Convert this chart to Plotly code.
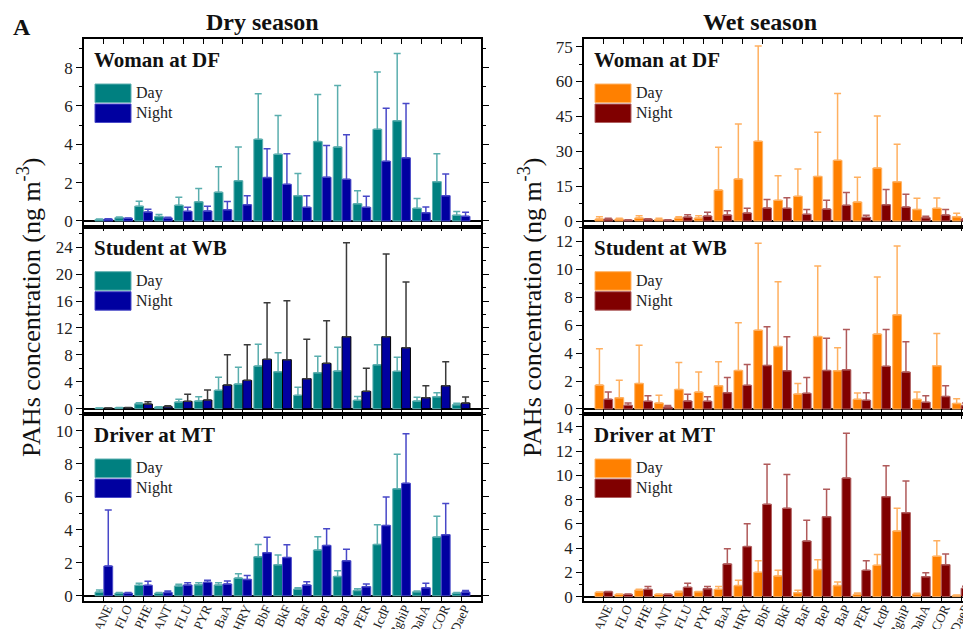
import plotly.graph_objects as go

cats = ["ANE", "FLO", "PHE", "ANT", "FLU", "PYR", "BaA", "CHRY", "BbF", "BkF",
        "BaF", "BeP", "BaP", "PER", "IcdP", "BghiP", "DahA", "COR", "DaeP"]

# Dry season
dry_df_day = [0.08, 0.17, 0.77, 0.23, 0.82, 1.00, 1.50, 2.10, 4.26, 3.48, 1.32, 4.14, 3.86, 0.90, 4.78, 5.23, 0.66, 2.05, 0.30]
dry_df_day_sd = [0.02, 0.03, 0.26, 0.10, 0.41, 0.69, 1.33, 1.76, 2.37, 2.02, 1.15, 2.46, 3.20, 0.68, 2.99, 3.50, 0.51, 1.46, 0.19]
dry_df_night = [0.10, 0.14, 0.47, 0.16, 0.50, 0.52, 0.59, 0.85, 2.26, 1.91, 0.71, 2.28, 2.17, 0.71, 3.11, 3.29, 0.43, 1.32, 0.24]
dry_df_night_sd = [0.02, 0.02, 0.14, 0.03, 0.21, 0.25, 0.42, 0.47, 1.50, 1.59, 0.61, 1.65, 2.33, 0.58, 2.77, 2.83, 0.30, 1.13, 0.21]

dry_wb_day = [0.10, 0.15, 0.74, 0.25, 0.99, 1.14, 2.73, 3.67, 6.35, 5.50, 1.98, 5.35, 5.60, 1.24, 6.54, 5.55, 1.14, 1.78, 0.60]
dry_wb_day_sd = [0.02, 0.02, 0.16, 0.05, 0.40, 0.64, 1.93, 2.48, 3.22, 2.83, 1.19, 2.43, 3.52, 0.59, 2.98, 2.09, 0.55, 0.60, 0.19]
dry_wb_night = [0.10, 0.15, 0.69, 0.30, 1.09, 1.29, 3.52, 4.21, 7.34, 7.29, 4.46, 6.74, 10.71, 2.58, 10.71, 9.07, 1.64, 3.42, 0.84]
dry_wb_night_sd = [0.02, 0.02, 0.35, 0.15, 1.04, 1.49, 4.51, 5.31, 8.43, 8.77, 5.85, 6.35, 13.98, 3.42, 12.29, 9.77, 1.78, 3.57, 0.90]

dry_mt_day = [0.22, 0.16, 0.63, 0.16, 0.59, 0.67, 0.65, 1.07, 2.36, 1.88, 0.40, 2.77, 1.17, 0.32, 3.11, 6.48, 0.24, 3.56, 0.16]
dry_mt_day_sd = [0.12, 0.04, 0.12, 0.04, 0.10, 0.12, 0.14, 0.26, 0.75, 0.58, 0.08, 0.81, 0.35, 0.10, 1.19, 2.09, 0.04, 1.25, 0.04]
dry_mt_night = [1.80, 0.16, 0.63, 0.20, 0.65, 0.81, 0.71, 0.99, 2.61, 2.32, 0.65, 3.05, 2.12, 0.55, 4.26, 6.81, 0.48, 3.70, 0.22]
dry_mt_night_sd = [3.39, 0.04, 0.24, 0.08, 0.14, 0.12, 0.18, 0.24, 0.93, 0.77, 0.20, 1.01, 0.69, 0.16, 1.72, 3.01, 0.27, 1.88, 0.10]

# Wet season
wet_df_day = [0.86, 0.86, 1.30, 0.70, 1.30, 1.30, 13.3, 18.1, 34.3, 8.9, 10.6, 19.2, 26.1, 8.2, 22.8, 16.9, 5.0, 5.45, 1.87]
wet_df_day_sd = [1.01, 0.29, 1.00, 0.45, 0.57, 1.00, 18.4, 23.6, 41.0, 10.6, 11.8, 19.0, 28.7, 10.6, 22.4, 16.1, 4.75, 4.45, 1.43]
wet_df_night = [0.86, 0.43, 0.86, 0.43, 1.72, 2.15, 2.58, 3.44, 5.6, 5.45, 2.87, 5.16, 6.74, 1.58, 7.0, 6.0, 1.43, 2.58, 0.86]
wet_df_night_sd = [0.29, 0.07, 0.14, 0.07, 1.01, 1.58, 1.87, 2.01, 3.7, 4.55, 2.13, 3.74, 5.56, 0.86, 6.6, 5.5, 0.57, 2.42, 0.14]

wet_wb_day = [1.71, 0.81, 1.83, 0.43, 1.40, 1.21, 1.67, 2.76, 5.64, 4.48, 1.07, 5.19, 2.74, 0.69, 5.36, 6.74, 0.69, 3.10, 0.40]
wet_wb_day_sd = [2.60, 1.24, 2.74, 0.55, 1.93, 1.43, 1.71, 3.41, 6.22, 4.62, 0.76, 5.05, 1.64, 0.45, 4.09, 4.93, 0.52, 2.30, 0.34]
wet_wb_night = [0.69, 0.26, 0.55, 0.14, 0.57, 0.55, 1.17, 1.69, 3.12, 2.74, 1.12, 2.76, 2.81, 0.62, 3.05, 2.64, 0.48, 0.90, 0.24]
wet_wb_night_sd = [0.52, 0.17, 0.40, 0.10, 0.48, 0.33, 1.09, 1.50, 2.76, 2.43, 1.14, 2.31, 2.88, 0.55, 2.64, 2.17, 0.47, 0.77, 0.19]

wet_mt_day = [0.36, 0.19, 0.55, 0.19, 0.39, 0.41, 0.60, 0.91, 2.01, 1.71, 0.33, 2.23, 0.91, 0.19, 2.59, 5.42, 0.22, 3.33, 0.11]
wet_mt_day_sd = [0.02, 0.02, 0.05, 0.02, 0.05, 0.02, 0.23, 0.44, 0.96, 0.46, 0.19, 0.82, 0.30, 0.11, 0.88, 1.87, 0.05, 1.29, 0.02]
wet_mt_night = [0.41, 0.19, 0.60, 0.19, 0.77, 0.66, 2.70, 4.13, 7.62, 7.29, 4.59, 6.60, 9.79, 2.17, 8.25, 6.93, 1.65, 2.64, 0.69]
wet_mt_night_sd = [0.02, 0.02, 0.23, 0.02, 0.33, 0.17, 1.26, 1.89, 3.30, 2.78, 1.71, 2.26, 3.69, 0.80, 2.56, 2.61, 0.33, 0.88, 0.16]

panel_titles = ["Woman at DF", "Student at WB", "Driver at MT"]
season_titles = ["Dry season", "Wet season"]
y_axis_title = "PAHs concentration (ng m<sup>-3</sup>)"

# The page body has an 8px margin; lay everything out in reference-pixel coordinates
OFF = 8
W, H = 971 - OFF, 629 - OFF
FONT = "Liberation Serif"

dry_style = dict(dc="#008080", dl="#5fb0b0", de="#5aaeae", nc="#0000a0", nl="#4a4ac8", ne="#4848c8")
wet_style = dict(dc="#ff8000", dl="#ffb366", de="#ffb060", nc="#800000", nl="#b06060", ne="#b05a5a")

panels = [
    (0, 0, dry_df_day, dry_df_day_sd, dry_df_night, dry_df_night_sd, [-0.30, 9.49], 2, 1),
    (0, 1, wet_df_day, wet_df_day_sd, wet_df_night, wet_df_night_sd, [-2.45, 78.3], 15, 7.5),
    (1, 0, dry_wb_day, dry_wb_day_sd, dry_wb_night, dry_wb_night_sd, [-0.79, 27.06], 4, 2),
    (1, 1, wet_wb_day, wet_wb_day_sd, wet_wb_night, wet_wb_night_sd, [-0.36, 13.05], 2, 1),
    (2, 0, dry_mt_day, dry_mt_day_sd, dry_mt_night, dry_mt_night_sd, [-0.32, 11.01], 2, 1),
    (2, 1, wet_mt_day, wet_mt_day_sd, wet_mt_night, wet_mt_night_sd, [-0.36, 15.07], 2, 1),
]

row_top_px = [39.0, 226.7, 414.0]
row_bot_px = [226.7, 414.0, 601.0]
col_left_px = [84.0, 584.0]
col_right_px = [481.0, 971.0]
xranges = [[-1, 19], [-1, 18.5]]

xpos = list(range(len(cats)))

fig = go.Figure()
layout = dict(
    width=W, height=H, margin=dict(l=0, r=0, t=0, b=0),
    paper_bgcolor="white", plot_bgcolor="white",
    barmode="group", bargap=0.11, bargroupgap=0.0,
    showlegend=False,
    font=dict(family=FONT, color="#222222"),
)
shapes = []
annotations = []

def py(px):
    return min(1.0, max(0.0, 1 - (px - OFF) / H))

def pxx(px):
    return min(1.0, max(0.0, (px - OFF) / W))

for k, (r, c, day, dsd, night, nsd, yr, dt, mn) in enumerate(panels):
    idx = k + 1
    st = dry_style if c == 0 else wet_style
    xa = "x" if idx == 1 else f"x{idx}"
    ya = "y" if idx == 1 else f"y{idx}"
    night_err_color = st["ne"]
    night_line = st["nl"]
    if r == 1 and c == 0:
        night_err_color = "#3a3a3a"
        night_line = "#000000"
    fig.add_trace(go.Bar(
        x=xpos, y=day, name="Day", xaxis=xa, yaxis=ya, offsetgroup="d",
        marker=dict(color=st["dc"], line=dict(color=st["dl"], width=1)),
        error_y=dict(type="data", array=dsd, arrayminus=[0] * len(dsd), symmetric=False,
                     color=st["de"], thickness=1.5, width=3.5),
    ))
    fig.add_trace(go.Bar(
        x=xpos, y=night, name="Night", xaxis=xa, yaxis=ya, offsetgroup="n",
        marker=dict(color=st["nc"], line=dict(color=night_line, width=1)),
        error_y=dict(type="data", array=nsd, arrayminus=[0] * len(nsd), symmetric=False,
                     color=night_err_color, thickness=1.5, width=3.5),
    ))
    xkey = "xaxis" if idx == 1 else f"xaxis{idx}"
    ykey = "yaxis" if idx == 1 else f"yaxis{idx}"
    layout[xkey] = dict(
        domain=[pxx(col_left_px[c]), pxx(col_right_px[c])],
        anchor=ya, range=xranges[c],
        tickmode="array", tickvals=xpos, ticktext=cats,
        showticklabels=(r == 2), tickangle=-65,
        ticklabelstandoff=-7, ticklabelshift=3, ticklabeloverflow="allow",
        tickfont=dict(family=FONT, size=13, color="#222222"),
        ticks="inside", ticklen=5, tickwidth=1, tickcolor="black",
        showline=True, linecolor="black", linewidth=1.5, mirror="ticks",
        showgrid=False, zeroline=False, automargin=False, fixedrange=True,
    )
    layout[ykey] = dict(
        domain=[py(row_bot_px[r]), py(row_top_px[r])],
        anchor=xa, range=yr, dtick=dt, tick0=0,
        tickfont=dict(family=FONT, size=17, color="#222222"),
        ticks="outside", ticklen=6, tickwidth=1, tickcolor="black",
        minor=dict(dtick=mn, tick0=0, ticks="outside", ticklen=3, tickcolor="black", tickwidth=1),
        showline=True, linecolor="black", linewidth=1.5,
        mirror=("ticks" if c == 0 else False),
        showgrid=False, zeroline=True, zerolinecolor="black", zerolinewidth=2,
        automargin=False, fixedrange=True,
    )

    left = col_left_px[c]
    top = row_top_px[r]
    annotations.append(dict(
        text=f"<b>{panel_titles[r]}</b>", xref="paper", yref="paper",
        x=pxx(left + 8), y=py(top + 21), xanchor="left", yanchor="middle",
        showarrow=False, font=dict(family=FONT, size=21, color="#111111"),
    ))
    for j, (lab, col, lc) in enumerate([("Day", st["dc"], st["dl"]), ("Night", st["nc"], st["nl"])]):
        y0 = top + 45 + j * 20
        y1 = y0 + 18.5
        shapes.append(dict(
            type="rect", xref="paper", yref="paper",
            x0=pxx(left + 11), x1=pxx(left + 47), y0=py(y1), y1=py(y0),
            fillcolor=col, line=dict(color=lc, width=1),
        ))
        annotations.append(dict(
            text=lab, xref="paper", yref="paper",
            x=pxx(left + 50), y=py((y0 + y1) / 2), xanchor="left", yanchor="middle",
            showarrow=False, font=dict(family=FONT, size=16, color="#222222"),
        ))

annotations.append(dict(text=f"<b>{season_titles[0]}</b>", xref="paper", yref="paper",
                        x=pxx(262), y=py(22), xanchor="center", yanchor="middle",
                        showarrow=False, font=dict(family=FONT, size=24, color="#111111")))
annotations.append(dict(text=f"<b>{season_titles[1]}</b>", xref="paper", yref="paper",
                        x=pxx(760), y=py(22), xanchor="center", yanchor="middle",
                        showarrow=False, font=dict(family=FONT, size=24, color="#111111")))
annotations.append(dict(text="<b>A</b>", xref="paper", yref="paper",
                        x=pxx(11), y=py(27), xanchor="left", yanchor="middle",
                        showarrow=False, font=dict(family=FONT, size=24, color="#111111")))
for xc in [30, 531]:
    annotations.append(dict(text=y_axis_title, xref="paper", yref="paper",
                            x=pxx(xc), y=py(308), xanchor="center", yanchor="middle",
                            textangle=-90, showarrow=False,
                            font=dict(family=FONT, size=26, color="#111111")))

layout["shapes"] = shapes
layout["annotations"] = annotations
fig.update_layout(**layout)
fig.write_html("out.html")
